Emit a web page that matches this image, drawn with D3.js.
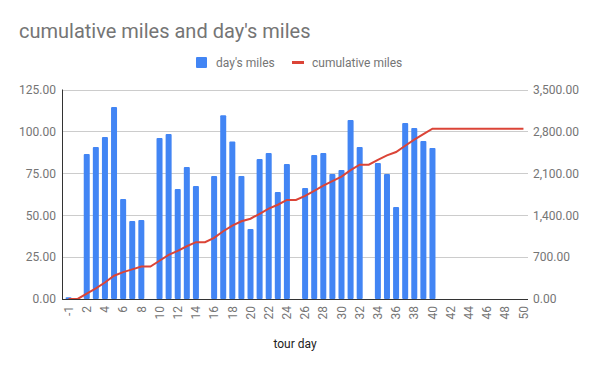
<!DOCTYPE html>
<html>
<head>
<meta charset="utf-8">
<script src="https://cdn.jsdelivr.net/npm/d3@7"></script>
<style>
  body { margin: 0; background: #fff; }
  text { font-family: Roboto, "Noto Sans", sans-serif; }
</style>
</head>
<body>
<div id="chart"></div>
<script>
// tour days (category axis)
var days = ["-1","1","2","3","4","5","6","7","8","9","10","11","12","13","14","15","16","17","18","19","20",
  "21","22","23","24","25","26","27","28","29","30","31","32","33","34","35","36","37","38","39","40",
  "41","42","43","44","45","46","47","48","49","50"];

// day's miles (null = no entry)
var dayMiles = [1, 0, 86.5, 90.7, 96.6, 114.5, 59.6, 46.5, 47.1, 0, 96, 98.4, 65.6, 78.7, 67.4, 0,
  73.4, 109.7, 94, 73.4, 41.7, 83.5, 87.1, 63.8, 80.5, 0, 66.2, 85.9, 87.1, 74.6, 76.9, 106.8, 90.7, 0,
  81.1, 74.6, 54.9, 105, 102, 94.2, 90.1,
  null, null, null, null, null, null, null, null, null, null];

// cumulative miles
var cumMiles = [1, 1, 88, 178, 275, 389, 449, 495, 543, 543, 639, 737, 803, 881, 949, 949,
  1022, 1132, 1226, 1299, 1341, 1424, 1511, 1575, 1656, 1656, 1722, 1808, 1895, 1970, 2046, 2153, 2244, 2244,
  2325, 2400, 2455, 2560, 2662, 2756, 2846,
  2846, 2846, 2846, 2846, 2846, 2846, 2846, 2846, 2846, 2846];

var leftTicks = [0, 25, 50, 75, 100, 125];
var rightTicks = [0, 700, 1400, 2100, 2800, 3500];
var seriesNames = ["day's miles", "cumulative miles"];

var width = 600, height = 371;
var plotLeft = 62, plotRight = 528, plotTop = 89.5, plotBottom = 299;
var blue = "#4285f4", red = "#db4437", grey = "#757575";

var svg = d3.select("#chart").append("svg")
  .attr("width", width)
  .attr("height", height);

var x = d3.scaleBand()
  .domain(days)
  .range([plotLeft + 2, plotRight])
  .paddingInner(0.34)
  .paddingOuter(0.17);

var yL = d3.scaleLinear().domain([0, 125]).range([plotBottom, plotTop]);
var yR = d3.scaleLinear().domain([0, 3500]).range([plotBottom, plotTop]);

// gridlines
svg.append("g")
  .selectAll("line")
  .data(leftTicks.slice(1))
  .enter()
  .append("line")
  .attr("x1", plotLeft).attr("x2", plotRight)
  .attr("y1", function(d) { return Math.round(yL(d)) + 0.5; })
  .attr("y2", function(d) { return Math.round(yL(d)) + 0.5; })
  .attr("stroke", "#cccccc")
  .attr("stroke-width", 1);

// left axis labels
var axL = svg.append("g")
  .attr("transform", "translate(" + plotLeft + ",0)")
  .call(d3.axisLeft(yL).tickValues(leftTicks).tickSize(0).tickPadding(6)
    .tickFormat(d3.format(".2f")));
axL.select(".domain").remove();
axL.selectAll("text").attr("fill", grey).style("font-size", "12px");

// right axis labels
var axR = svg.append("g")
  .attr("transform", "translate(" + plotRight + ",0)")
  .call(d3.axisRight(yR).tickValues(rightTicks).tickSize(0).tickPadding(5)
    .tickFormat(d3.format(",.2f")));
axR.select(".domain").remove();
axR.selectAll("text").attr("fill", grey).style("font-size", "12px");

// bars
svg.append("g")
  .selectAll("rect")
  .data(days.map(function(d, i) { return {day: d, v: dayMiles[i]}; })
    .filter(function(d) { return d.v; }))
  .enter()
  .append("rect")
  .attr("x", function(d) { return x(d.day); })
  .attr("width", x.bandwidth())
  .attr("y", function(d) { return yL(d.v); })
  .attr("height", function(d) { return plotBottom - yL(d.v); })
  .attr("rx", 1)
  .attr("fill", blue);

// cumulative line
var line = d3.line()
  .x(function(d) { return x(d.day) + x.bandwidth() / 2; })
  .y(function(d) { return yR(d.v); });

svg.append("path")
  .datum(days.map(function(d, i) { return {day: d, v: cumMiles[i]}; }))
  .attr("d", line)
  .attr("fill", "none")
  .attr("stroke", red)
  .attr("stroke-width", 2);

// axes lines
svg.append("line")
  .attr("x1", plotLeft).attr("x2", plotRight)
  .attr("y1", plotBottom + 0.5).attr("y2", plotBottom + 0.5)
  .attr("stroke", "#333");
svg.append("line")
  .attr("x1", plotLeft + 0.5).attr("x2", plotLeft + 0.5)
  .attr("y1", plotTop).attr("y2", plotBottom)
  .attr("stroke", "#333");

// x axis labels, every other day, rotated
var axX = svg.append("g")
  .attr("transform", "translate(0," + plotBottom + ")")
  .call(d3.axisBottom(x).tickSize(0)
    .tickValues(days.filter(function(d, i) { return i % 2 == 0; })));
axX.select(".domain").remove();
axX.selectAll("text")
  .attr("fill", grey)
  .style("font-size", "12px")
  .attr("transform", "rotate(-90)")
  .attr("x", -7)
  .attr("y", 0)
  .attr("dy", "0.35em")
  .style("text-anchor", "end");

// title
svg.append("text")
  .attr("x", 19)
  .attr("y", 38)
  .attr("fill", grey)
  .style("font-size", "20px")
  .text("cumulative miles and day's miles");

// axis title
svg.append("text")
  .attr("x", (plotLeft + plotRight) / 2)
  .attr("y", 348)
  .attr("text-anchor", "middle")
  .attr("fill", "#222")
  .style("font-size", "12px")
  .text("tour day");

// legend
var legend = svg.append("g");
legend.append("rect")
  .attr("x", 196).attr("y", 57)
  .attr("width", 11).attr("height", 11)
  .attr("rx", 1)
  .attr("fill", blue);
legend.append("text")
  .attr("x", 216).attr("y", 67)
  .attr("fill", grey)
  .style("font-size", "12px")
  .text(seriesNames[0]);
legend.append("line")
  .attr("x1", 292).attr("x2", 304)
  .attr("y1", 62.5).attr("y2", 62.5)
  .attr("stroke", red)
  .attr("stroke-width", 3);
legend.append("text")
  .attr("x", 312).attr("y", 67)
  .attr("fill", grey)
  .style("font-size", "12px")
  .text(seriesNames[1]);
</script>
</body>
</html>
